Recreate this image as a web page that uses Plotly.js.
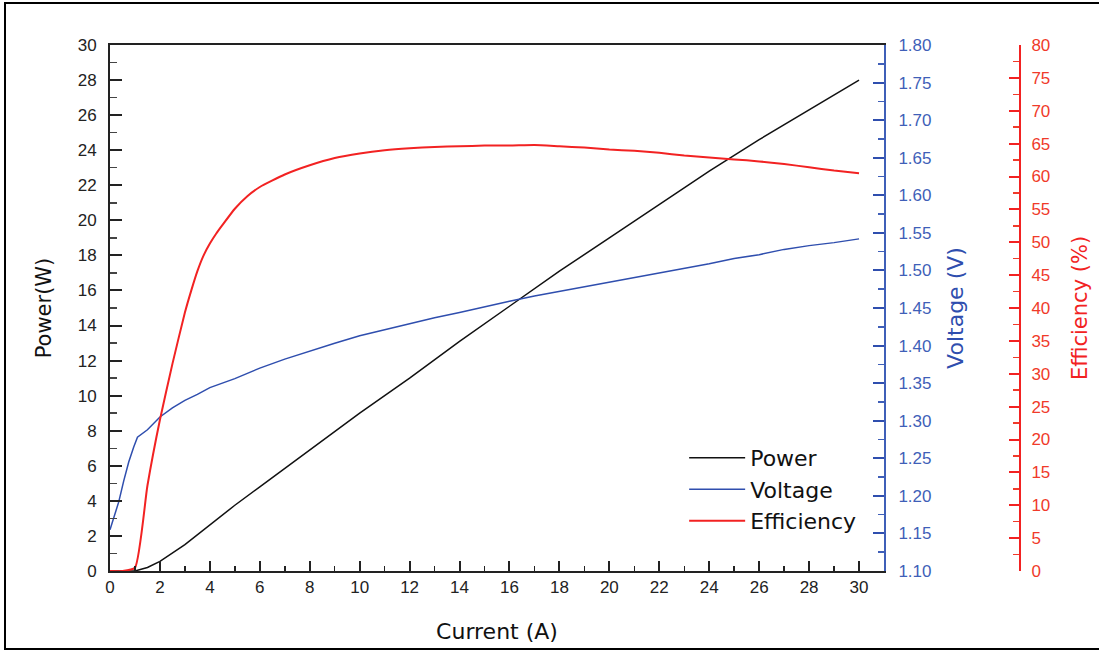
<!DOCTYPE html>
<html>
<head>
<meta charset="utf-8">
<script src="https://cdn.plot.ly/plotly-3.0.1.min.js"></script>
<style>
html,body{margin:0;padding:0;background:#fff;}
#frame{position:absolute;left:4px;top:2px;width:1100px;height:648px;border:2px solid #000;box-sizing:border-box;}
#chart{position:absolute;left:0;top:0;width:1099px;height:653px;}
</style>
</head>
<body>
<div id="frame"></div>
<div id="chart"></div>
<script>
// Current (A) values for each series
const powerCurrent = [0, 0.5, 1, 1.5, 2, 3, 4, 5, 6, 8, 10, 12, 14, 16, 18, 20, 22, 24, 26, 28, 30];
const powerValues  = [0, 0, 0, 0.2, 0.55, 1.5, 2.65, 3.75, 4.8, 6.9, 9.0, 11.0, 13.1, 15.1, 17.1, 19.0, 20.9, 22.8, 24.6, 26.3, 28.0];

const voltageCurrent = [0, 0.15, 0.35, 0.55, 0.75, 0.95, 1.1, 1.5, 2, 2.5, 3, 3.5, 4, 5, 6, 7, 8, 9, 10, 11, 12, 13, 14, 15, 16, 17, 18, 19, 20, 21, 22, 23, 24, 25, 26, 27, 28, 29, 30];
const voltageValues  = [1.155, 1.17, 1.192, 1.22, 1.245, 1.265, 1.278, 1.288, 1.305, 1.317, 1.327, 1.335, 1.344, 1.356, 1.37, 1.382, 1.393, 1.403, 1.413, 1.421, 1.43, 1.437, 1.444, 1.452, 1.459, 1.466, 1.472, 1.478, 1.485, 1.491, 1.497, 1.503, 1.509, 1.516, 1.521, 1.528, 1.533, 1.537, 1.542];

const effCurrent = [0, 0.5, 1, 1.5, 2, 2.5, 3, 3.25, 3.5, 3.75, 4, 4.25, 4.5, 5, 5.5, 6, 7, 8, 9, 10, 11, 12, 13, 14, 15, 16, 17, 18, 19, 20, 21, 22, 23, 24, 25, 26, 27, 28, 29, 30];
const effValues  = [0, 0, 0.5, 13, 23, 31.5, 39.3, 42.6, 45.6, 48, 49.8, 51.3, 52.6, 55.1, 57, 58.4, 60.3, 61.7, 62.8, 63.5, 64, 64.3, 64.5, 64.6, 64.7, 64.7, 64.8, 64.6, 64.4, 64.1, 63.9, 63.6, 63.2, 62.9, 62.6, 62.3, 61.9, 61.4, 60.9, 60.5];

const seriesNames = ['Power', 'Voltage', 'Efficiency'];

const BLACK = '#111111', BLUE = '#2f4eae', RED = '#f22222';
const BLUE_T = '#3f5fb8', RED_T = '#f03a2a';

const traces = [
  {x: powerCurrent, y: powerValues, name: seriesNames[0], type: 'scatter', mode: 'lines',
   line: {color: BLACK, width: 1.5}, yaxis: 'y'},
  {x: voltageCurrent, y: voltageValues, name: seriesNames[1], type: 'scatter', mode: 'lines',
   line: {color: BLUE, width: 1.5}, yaxis: 'y2'},
  {x: effCurrent, y: effValues, name: seriesNames[2], type: 'scatter', mode: 'lines',
   line: {color: RED, width: 2, shape: 'spline', smoothing: 0.5}, yaxis: 'y3'}
];

const W = 1099, H = 653, ML = 110, MR = 40;
const PW = W - ML - MR;
const xEnd = (884 - ML) / PW;
const y3pos = (1020 - ML) / PW;

const tickFam = 'Liberation Sans, Arial, sans-serif';
const titleFam = 'DejaVu Sans, sans-serif';

const layout = {
  width: W, height: H,
  margin: {l: ML, r: MR, t: 45, b: 82, pad: 0},
  paper_bgcolor: 'rgba(0,0,0,0)',
  plot_bgcolor: 'rgba(0,0,0,0)',
  font: {family: tickFam, color: '#222'},
  showlegend: true,
  legend: {x: 0.605, y: 0.255, xanchor: 'left', yanchor: 'top', bgcolor: 'rgba(0,0,0,0)',
           font: {size: 22, color: '#111', family: titleFam}, itemwidth: 56, tracegroupgap: 0},
  xaxis: {
    domain: [0, xEnd], range: [0, 31], showgrid: false, zeroline: false,
    showline: true, linecolor: '#222', linewidth: 2, mirror: true,
    ticks: 'inside', ticklen: 10, tickwidth: 2, tickcolor: '#222', dtick: 2, tick0: 0,
    minor: {dtick: 1, ticks: 'inside', ticklen: 5, tickwidth: 1.5, tickcolor: '#222'},
    tickfont: {size: 17, color: '#222'}, ticklabelstandoff: 0,
    title: {text: 'Current (A)', font: {size: 22, color: '#111', family: titleFam}, standoff: 27}
  },
  yaxis: {
    range: [0, 30], showgrid: false, zeroline: false,
    showline: true, linecolor: '#222', linewidth: 2,
    ticks: 'inside', ticklen: 12, tickwidth: 2, tickcolor: '#222', dtick: 2, tick0: 0,
    minor: {dtick: 1, ticks: 'inside', ticklen: 7, tickwidth: 1.5, tickcolor: '#444'},
    tickfont: {size: 17, color: '#222'}, ticklabelstandoff: 8,
    title: {text: 'Power(W)', font: {size: 21, color: '#111', family: titleFam}, standoff: 20}
  },
  yaxis2: {
    overlaying: 'y', side: 'right', anchor: 'x',
    range: [1.1, 1.8], showgrid: false, zeroline: false,
    showline: true, linecolor: BLUE_T, linewidth: 2,
    ticks: 'inside', ticklen: 11, tickwidth: 2, tickcolor: BLUE, dtick: 0.05, tick0: 1.1,
    tickformat: '.2f',
    minor: {dtick: 0.025, ticks: 'inside', ticklen: 6, tickwidth: 1.5, tickcolor: BLUE_T},
    tickfont: {size: 17, color: BLUE_T}, ticklabelstandoff: 9,
    title: {text: 'Voltage (V)', font: {size: 22, color: BLUE, family: titleFam}, standoff: 17}
  },
  yaxis3: {
    overlaying: 'y', side: 'right', anchor: 'free', position: y3pos,
    range: [0, 80], showgrid: false, zeroline: false,
    showline: true, linecolor: RED, linewidth: 2,
    ticks: 'inside', ticklen: 10, tickwidth: 2, tickcolor: RED, dtick: 5, tick0: 0,
    minor: {dtick: 2.5, ticks: 'inside', ticklen: 6, tickwidth: 1.5, tickcolor: RED_T},
    tickfont: {size: 17, color: RED_T}, ticklabelstandoff: 7,
    title: {text: 'Efficiency (%)', font: {size: 21, color: RED, family: titleFam}, standoff: 22}
  }
};

Plotly.newPlot('chart', traces, layout, {displayModeBar: false, staticPlot: true});
</script>
</body>
</html>
